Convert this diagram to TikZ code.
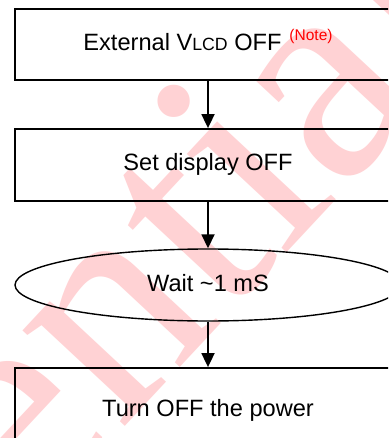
\documentclass[tikz,border=0pt]{standalone}
\usepackage{fontspec}
\setmainfont{Liberation Sans}
\newfontfamily\markfont{Liberation Serif}
\usetikzlibrary{arrows.meta,shapes.geometric}
\definecolor{markpink}{RGB}{255,210,212}
\tikzset{
  stepbox/.style={draw=black, line width=1.8pt, rectangle, minimum width=386pt,
    inner sep=0pt, text height=17pt, text depth=5pt},
  waitbox/.style={draw=black, line width=1.4pt, ellipse, minimum width=386pt,
    minimum height=72pt, inner sep=0pt, text height=17pt, text depth=5pt},
  flow/.style={draw=black, line width=1.8pt, -{Triangle[length=14pt,width=13pt]}},
}
\begin{document}
\begin{tikzpicture}[x=1pt, y=-1pt, font=\fontsize{23.6}{28}\selectfont]
  \useasboundingbox (0,0) rectangle (388,438);
  \fill[white] (0,0) rectangle (388,438);
  \clip (0,0) rectangle (388,438);

  % background stamp
  \node[anchor=base west, rotate=47, text=markpink, inner sep=0pt,
        font=\markfont\fontsize{305}{320}\selectfont] (stamp) at (-550,1150) {Confidential};

  % flow steps
  \node[stepbox, minimum height=71pt] (vlcd) at (208,44.5)
    {External V{\fontsize{17.7}{20}\selectfont LCD} OFF\hspace{8pt}\raisebox{10pt}{\fontsize{15.5}{18}\selectfont\color{red}(Note)}};
  \node[stepbox, minimum height=72pt] (disp) at (208,165) {Set display OFF};
  \node[waitbox] (wait) at (208,285) {Wait \textasciitilde 1 mS};
  \node[stepbox, minimum height=84pt] (power) at (208,410) {Turn OFF the power};

  % connectors
  \draw[flow] (vlcd.south) -- (disp.north);
  \draw[flow] (disp.south) -- (wait.north);
  \draw[flow] (wait.south) -- (power.north);
\end{tikzpicture}
\end{document}
